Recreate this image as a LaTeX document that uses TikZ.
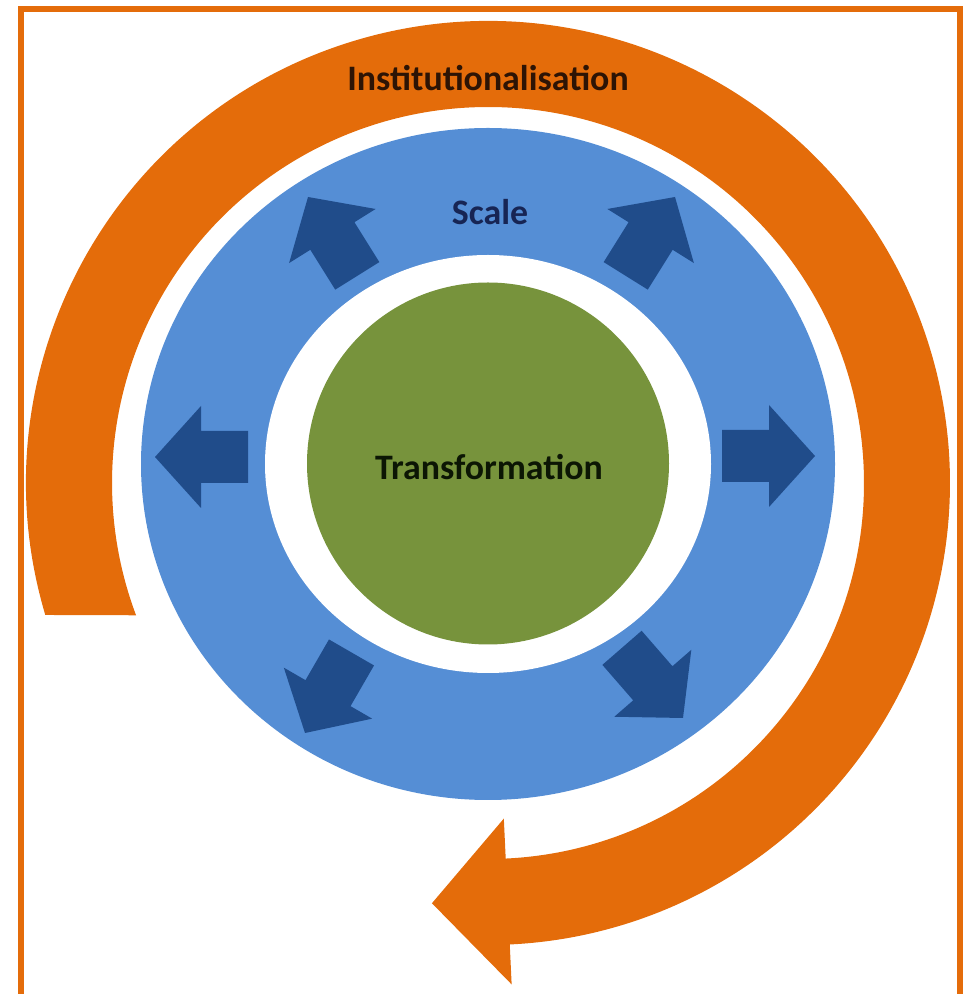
\documentclass[tikz,border=0pt]{standalone}
\usepackage{fontspec}
\setmainfont{Carlito}
\definecolor{ringorange}{RGB}{228,108,10}
\definecolor{ringblue}{RGB}{85,142,213}
\definecolor{arrowblue}{RGB}{32,76,138}
\definecolor{coregreen}{RGB}{119,147,60}
\definecolor{labelnavy}{RGB}{23,37,84}
\definecolor{labelbrown}{RGB}{45,20,5}
\definecolor{labeldark}{RGB}{12,22,4}

\begin{document}
\begin{tikzpicture}[x=0.02cm, y=0.02cm,
  ringtext/.style={font=\fontsize{20.4}{24}\selectfont\bfseries, inner sep=0pt},
  scalearrow/.style={fill=arrowblue}]
\useasboundingbox (0,0) rectangle (966,994);

% Frame (open at the bottom)
\draw[ringorange, line width=3.1pt] (21,0) -- (21,985) -- (960,985) -- (960,0);

% Orange circular arrow
\coordinate (o) at (488,511);
\fill[ringorange] ([shift={(196.6:462)}]o) arc[start angle=196.6, end angle=-87.3, radius=462]
  -- ([shift={(-87.3:502)}]o) -- ([shift={(-97.6:424)}]o) -- ([shift={(-87.3:336)}]o)
  -- ([shift={(-87.3:376)}]o) arc[start angle=-87.3, end angle=200.6, radius=376] -- cycle;

% Blue ring
\fill[ringblue] (488,530) ellipse[x radius=347, y radius=336];
\fill[white] (488,530) ellipse[x radius=223, y radius=209];

% Outward arrows
\foreach \x/\y/\a in {815/538/0, 675/797/58, 308/797/122, 155/537/180, 305/261/240, 683/276/-49}
  \fill[scalearrow, shift={(\x,\y)}, rotate=\a] (0,0) -- (-46,51) -- (-46,26) -- (-93,26)
    -- (-93,-26) -- (-46,-26) -- (-46,-51) -- cycle;

% Core
\fill[coregreen] (488,530.5) circle[radius=181];

% Labels
\node[ringtext, labelbrown] (inst) at (488,916) {Institutionalisation};
\node[ringtext, labelnavy] (scale) at (490,782) {Scale};
\node[ringtext, labeldark] (trans) at (489,527) {Transformation};
\end{tikzpicture}
\end{document}
